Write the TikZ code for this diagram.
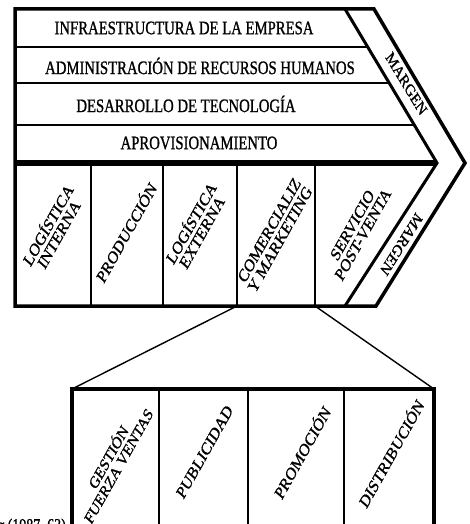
\documentclass[tikz,border=0pt]{standalone}
\usepackage{fontspec}
\setmainfont{Liberation Serif}[FakeBold=0.6]
\newfontfamily\lblfont{Liberation Serif}[FakeBold=1.2]
\usepackage{graphicx}
\newcommand{\sqrot}[2]{\scalebox{0.8}[1]{\rotatebox{#1}{\begin{tabular}{@{}c@{}}#2\end{tabular}}}}
\newcommand{\hsq}[1]{\scalebox{0.775}[1]{#1}}
\begin{document}
\begin{tikzpicture}[x=1pt,y=-1pt,
  frame/.style={line width=3.5pt, line join=miter},
  sep/.style={line width=1.8pt},
  conn/.style={line width=1.4pt},
  hlbl/.style={inner sep=0pt, font=\lblfont\fontsize{19}{20}\selectfont},
  rlbl/.style={inner sep=0pt, font=\lblfont\fontsize{18}{14.5}\selectfont},
  mlbl/.style={inner sep=0pt, font=\lblfont\fontsize{17}{15}\selectfont}]
\useasboundingbox (0,0) rectangle (469,524);
\clip (0,0) rectangle (469,524);
% main frame corners
\coordinate (TL) at (15,9);
\coordinate (IT0) at (345,9);
\coordinate (OT) at (374,9);
\coordinate (ITip) at (437,163);
\coordinate (OTip) at (465,163);
\coordinate (IB) at (345,306);
\coordinate (OB) at (376,306);
\coordinate (BL) at (15,306);
\draw[frame] (TL) -- (OT) -- (OTip) -- (OB) -- (BL) -- cycle;
\draw[line width=3pt, line join=miter] (IT0) -- (ITip) -- (IB);
% support rows
\coordinate (r1l) at (15,47);  \coordinate (r1r) at (367.7,47);
\coordinate (r2l) at (15,83);  \coordinate (r2r) at (389.2,83);
\coordinate (r3l) at (15,125); \coordinate (r3r) at (414.3,125);
\coordinate (r4l) at (15,163);
\draw[sep] (r1l) -- (r1r);
\draw[sep] (r2l) -- (r2r);
\draw[sep] (r3l) -- (r3r);
\draw[line width=6pt] (r4l) -- (ITip);
% primary columns
\foreach \x/\n in {91/a,163/b,237/c,315/d}{
  \coordinate (p\n t) at (\x,163);
  \coordinate (p\n b) at (\x,306);
  \draw[sep] (p\n t) -- (p\n b);
}
% support labels
\node[hlbl] (infra) at (184,28) {\hsq{INFRAESTRUCTURA DE LA EMPRESA}};
\node[hlbl] (rrhh) at (200,66) {\hsq{ADMINISTRACIÓN DE RECURSOS HUMANOS}};
\node[hlbl] (tec) at (186,104) {\hsq{DESARROLLO DE TECNOLOGÍA}};
\node[hlbl] (aprov) at (199,143) {\hsq{APROVISIONAMIENTO}};
% margin labels
\node[mlbl] (marg1) at (405,85) {\sqrot{-53}{MARGEN}};
\node[mlbl] (marg2) at (400,243) {\sqrot{232}{MARGEN}};
% primary labels
\node[rlbl] (li) at (54,230) {\sqrot{55}{LOGÍSTICA\\INTERNA}};
\node[rlbl] (prod) at (127,233) {\sqrot{55}{PRODUCCIÓN}};
\node[rlbl] (le) at (197,228) {\sqrot{55}{LOGÍSTICA\\EXTERNA}};
\node[rlbl] (com) at (276,236) {\sqrot{55}{COMERCIALIZ\\Y MARKETING}};
\node[rlbl] (serv) at (359,231) {\sqrot{55}{SERVICIO\\POST-VENTA}};
% sub box
\coordinate (sTL) at (72,389);
\coordinate (sTR) at (434,389);
\coordinate (sBL) at (72,545);
\coordinate (sBR) at (434,545);
\draw[frame] (sBL) -- (sTL) -- (sTR) -- (sBR);
\foreach \x/\n in {159/a,248/b,344/c}{
  \coordinate (s\n t) at (\x,389);
  \coordinate (s\n b) at (\x,545);
  \draw[sep] (s\n t) -- (s\n b);
}
\draw[conn] (pcb) -- (sTL);
\draw[conn] (pdb) -- (sTR);
\node[rlbl, font=\lblfont\fontsize{17}{14}\selectfont] (gest) at (114,462) {\sqrot{55}{GESTIÓN\\FUERZA VENTAS}};
\node[rlbl] (pub) at (206,453) {\sqrot{55}{PUBLICIDAD}};
\node[rlbl] (prom) at (303,453) {\sqrot{55}{PROMOCIÓN}};
\node[rlbl] (dist) at (392,454) {\sqrot{55}{DISTRIBUCIÓN}};
\node[inner sep=0pt, anchor=base east, font=\lblfont\fontsize{18}{18}\selectfont] (src) at (66,531) {\hsq{r (1987, 63)}};
\end{tikzpicture}
\end{document}
